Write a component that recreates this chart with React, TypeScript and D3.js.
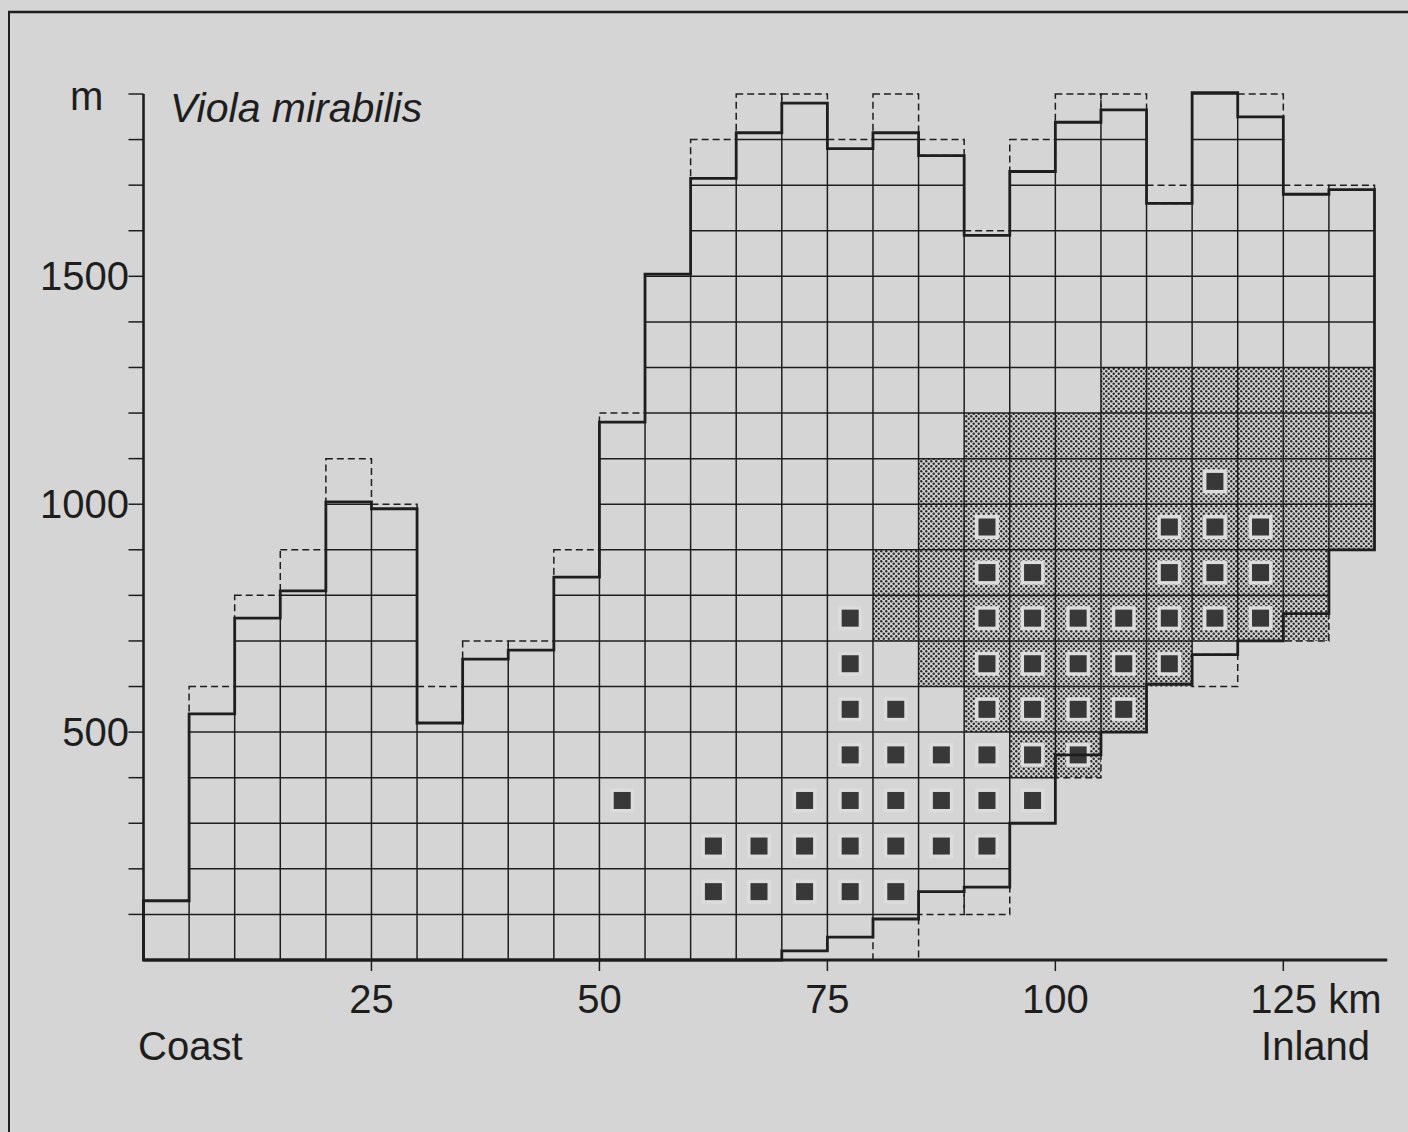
import * as d3 from 'd3';

// column start (km from the coast), each column is 5 km wide
const kmStart = [0, 5, 10, 15, 20, 25, 30, 35, 40, 45, 50, 55, 60, 65, 70, 75, 80, 85, 90, 95, 100, 105, 110, 115, 120, 125, 130];
// upper profile (solid) and the higher dashed bound, m
const topElev = [130, 540, 750, 810, 1005, 990, 520, 660, 680, 840, 1180, 1505, 1715, 1815, 1880, 1780, 1815, 1765, 1590, 1730, 1838, 1865, 1660, 1903, 1850, 1680, 1690];
const topMaxElev = [null, 600, 800, 900, 1100, 1000, 600, 700, 700, 900, 1200, null, 1800, 1900, 1900, 1800, 1900, 1800, 1600, 1800, 1900, 1900, 1700, null, 1900, 1700, 1700];
// lower profile (solid) and the lower dashed bound, m
const baseElev = [0, 0, 0, 0, 0, 0, 0, 0, 0, 0, 0, 0, 0, 0, 20, 50, 90, 150, 160, 300, 450, 500, 605, 670, 700, 760, 900];
const baseMinElev = [null, null, null, null, null, null, null, null, null, null, null, null, null, null, null, null, 0, 100, 100, null, 400, null, null, 600, null, 700, null];

// stippled cells: [row base m, from km, to km]
const shadedRows = [
    [1200, 105, 135],
    [1100, 90, 135],
    [1000, 85, 135],
    [900, 85, 135],
    [800, 80, 130],
    [700, 80, 130],
    [600, 85, 115],
    [500, 90, 110],
    [400, 95, 105],
];

// records of the species: row base m -> column start km
const recordRows: [number, number[]][] = [
    [100, [60, 65, 70, 75, 80]],
    [200, [60, 65, 70, 75, 80, 85, 90]],
    [300, [50, 70, 75, 80, 85, 90, 95]],
    [400, [75, 80, 85, 90, 95, 100]],
    [500, [75, 80, 90, 95, 100, 105]],
    [600, [75, 90, 95, 100, 105, 110]],
    [700, [75, 90, 95, 100, 105, 110, 115, 120]],
    [800, [90, 95, 110, 115, 120]],
    [900, [90, 110, 115, 120]],
    [1000, [115]],
];

const xTicks = [25, 50, 75, 100, 125];
const yLabels = [500, 1000, 1500];

const W = 1408, H = 1132;
const STEP = 5, BAND = 100;
const BG = '#d5d5d5';
const INK = '#1e1e1e';
const FONT = '"Liberation Sans", Arial, Helvetica, sans-serif';

const x = d3.scaleLinear().domain([0, 135]).range([143.5, 1374.5]);
const y = d3.scaleLinear().domain([0, 1900]).range([960, 94]);

export default function App() {
    const cols = kmStart.map((k, i) => ({
        k, top: topElev[i], topMax: topMaxElev[i], base: baseElev[i], baseMin: baseMinElev[i]
    }));

    // thin grid inside the solid outline
    const hGrid: { x1: number, x2: number, e: number }[] = [];
    cols.forEach(c => {
        for (let e = BAND; e < c.top; e += BAND) {
            if (e > c.base) hGrid.push({ x1: x(c.k), x2: x(c.k + STEP), e });
        }
    });
    const vGrid: { xv: number, lo: number, hi: number }[] = [];
    for (let i = 0; i < cols.length - 1; i++) {
        const lo = Math.max(cols[i].base, cols[i + 1].base);
        const hi = Math.min(cols[i].top, cols[i + 1].top);
        if (hi > lo) vGrid.push({ xv: x(cols[i].k + STEP), lo, hi });
    }

    // outline: upper steps left->right, then lower steps right->left
    const pts: [number, number][] = [];
    cols.forEach(c => { pts.push([c.k, c.top], [c.k + STEP, c.top]); });
    cols.slice().reverse().forEach(c => { pts.push([c.k + STEP, c.base], [c.k, c.base]); });
    const outline = d3.line<[number, number]>().x(d => x(d[0])).y(d => y(d[1]))(pts) + 'Z';

    const dashed: { k: number, a: number, b: number }[] = [];
    cols.forEach(c => {
        if (c.topMax !== null) dashed.push({ k: c.k, a: c.top, b: c.topMax });
        if (c.baseMin !== null) dashed.push({ k: c.k, a: c.baseMin, b: c.base });
    });

    const cellW = x(STEP) - x(0);
    const cellH = y(0) - y(BAND);

    return (
        <svg width={W} height={H} style={{ position: 'absolute', left: 0, top: 0 }} fontFamily={FONT}>
            <defs>
                <pattern id="stipple" width="5" height="5" patternUnits="userSpaceOnUse">
                    <rect width="5" height="5" fill="#d0d0d0" />
                    <circle cx="1.25" cy="1.25" r="1.2" fill="#2a2a2a" />
                    <circle cx="3.75" cy="3.75" r="1.2" fill="#2a2a2a" />
                </pattern>
            </defs>
            <rect width={W} height={H} fill={BG} />
            <line x1={8} x2={W} y1={12} y2={12} stroke={INK} strokeWidth={2.5} />
            <line x1={9} x2={9} y1={12} y2={H} stroke={INK} strokeWidth={2} />

            {shadedRows.map(([e, a, b]) => (
                <rect key={'s' + e} x={x(a)} y={y(e + BAND)} width={x(b) - x(a)} height={y(e) - y(e + BAND)} fill="url(#stipple)" />
            ))}

            {recordRows.map(([e, ks]) => ks.map(k => (
                <g key={'r' + e + '-' + k}>
                    <rect x={x(k) + cellW / 2 - 12} y={y(e) - cellH / 2 - 12} width={24} height={24} fill="#dcdcdc" />
                    <rect x={x(k) + cellW / 2 - 8.5} y={y(e) - cellH / 2 - 8.5} width={17} height={17} fill="#383838" />
                </g>
            )))}

            <g stroke={INK} strokeWidth={1.5}>
                {hGrid.map((g, i) => <line key={'h' + i} x1={g.x1} x2={g.x2} y1={y(g.e)} y2={y(g.e)} />)}
                {vGrid.map((g, i) => <line key={'v' + i} x1={g.xv} x2={g.xv} y1={y(g.lo)} y2={y(g.hi)} />)}
            </g>

            <g stroke={INK} strokeWidth={1.5} fill="none" strokeDasharray="7 4">
                {dashed.map((d, i) => (
                    <rect key={'d' + i} x={x(d.k)} y={y(d.b)} width={cellW} height={y(d.a) - y(d.b)} />
                ))}
            </g>

            <path d={outline} fill="none" stroke={INK} strokeWidth={2.8} strokeLinejoin="miter" />

            {/* axes */}
            <line x1={x(0)} x2={x(0)} y1={y(0) + 1} y2={y(1900)} stroke={INK} strokeWidth={2.6} />
            <line x1={x(0)} x2={x(136.4)} y1={y(0)} y2={y(0)} stroke={INK} strokeWidth={2.8} />
            <g stroke={INK} strokeWidth={1.5}>
                {y.ticks(19).filter(t => t > 0).map(t => (
                    <line key={'yt' + t} x1={x(0) - 15} x2={x(0)} y1={y(t)} y2={y(t)} />
                ))}
                {xTicks.map(t => <line key={'xt' + t} x1={x(t)} x2={x(t)} y1={y(0)} y2={y(0) + 11} />)}
            </g>

            <g fill={INK} fontSize={40}>
                {yLabels.map(t => (
                    <text key={'yl' + t} x={129} y={y(t) + 14} textAnchor="end">{t}</text>
                ))}
                <text x={70} y={110}>m</text>
                {xTicks.filter(t => t < 125).map(t => (
                    <text key={'xl' + t} x={x(t)} y={1013} textAnchor="middle">{t}</text>
                ))}
                <text x={x(125) - 33} y={1013}>125 km</text>
                <text x={138} y={1060}>Coast</text>
                <text x={1370} y={1060} textAnchor="end">Inland</text>
                <text x={170} y={122} fontStyle="italic" fontSize={41}>Viola mirabilis</text>
            </g>
        </svg>
    );
}
